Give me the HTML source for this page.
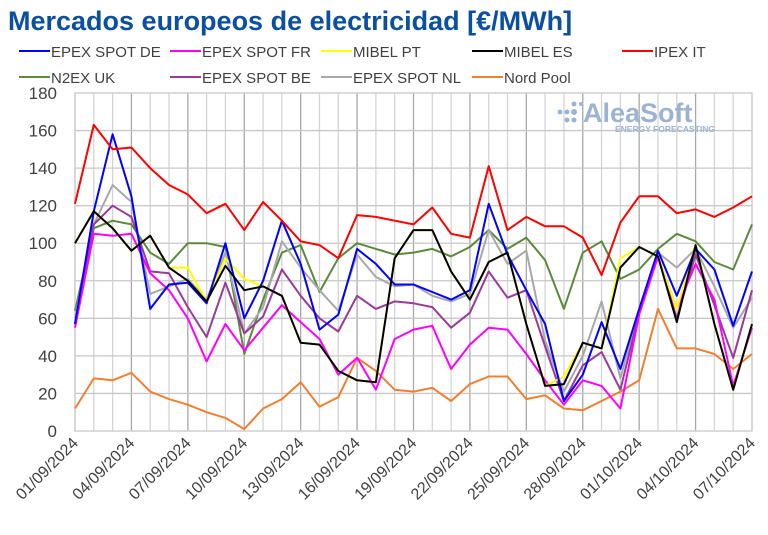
<!DOCTYPE html>
<html><head><meta charset="utf-8"><style>
html,body{margin:0;padding:0;background:#fff;}
svg{display:block;font-family:"Liberation Sans",sans-serif;}
</style></head><body>
<svg id="c" width="768" height="535" xmlns="http://www.w3.org/2000/svg">
<text x="8" y="30" font-size="27" font-weight="bold" fill="#0B4FA0">Mercados europeos de electricidad [€/MWh]</text>
<g id="grid"></g>
<g id="series" fill="none" stroke-width="2" stroke-linejoin="round"></g>
<g id="leg" font-size="15" fill="#404040"></g>
<g font-family="Liberation Sans" fill="#9db3d3">
<circle cx="560" cy="112" r="2.5"/><circle cx="567" cy="112" r="2.5"/><circle cx="574" cy="112" r="3"/><circle cx="574" cy="104" r="2.5"/><circle cx="574" cy="120" r="2.5"/><circle cx="567" cy="120" r="2.5"/><circle cx="581" cy="104" r="2"/>
<text x="583" y="122" font-size="27" font-weight="bold">AleaSoft</text>
<text x="615" y="132" font-size="8.5" font-weight="bold">ENERGY FORECASTING</text>
</g>
</svg>
<script>
const L=75,R=752,T=93,B=431,N=37,dx=(R-L)/36;
const X=i=>L+i*dx, Y=v=>B-v*(B-T)/180;
const ns="http://www.w3.org/2000/svg";
function el(p,t,a,txt){const e=document.createElementNS(ns,t);for(const k in a)e.setAttribute(k,a[k]);if(txt!==undefined)e.textContent=txt;p.appendChild(e);return e;}
const g=document.getElementById('grid');
for(let i=0;i<N;i++){el(g,'line',{x1:X(i),x2:X(i),y1:T,y2:B,stroke:i%3==0?'#a8a8a8':'#d4d4d4','stroke-width':1.3});}
for(let v=0;v<=180;v+=20){el(g,'line',{x1:L,x2:R,y1:Y(v),y2:Y(v),stroke:'#c8c8c8','stroke-width':1.3});
el(g,'text',{x:57,y:Y(v)+6,'text-anchor':'end','font-size':17,fill:'#404040'},String(v));}
el(g,'rect',{x:L,y:T,width:R-L,height:B-T,fill:'none',stroke:'#d0d0d0','stroke-width':1.3});
for(let i=0;i<N;i+=3){const d=new Date(2024,8,1+i);const s=String(d.getDate()).padStart(2,'0')+'/'+String(d.getMonth()+1).padStart(2,'0')+'/2024';
el(g,'text',{x:0,y:0,'text-anchor':'end','font-size':16,fill:'#404040',transform:`translate(${X(i)+4},${B+13}) rotate(-45)`},s);}
const S=[
['N2EX UK','#5a8a3a',[64,108,112,110,95,89,100,100,98,41,70,95,99,74,92,100,97,94,95,97,93,98,107,97,103,91,65,95,101,81,86,97,105,101,90,86,110]],
['EPEX SPOT NL','#a8a8a8',[60,110,131,122,73,77,81,70,95,52,66,101,87,75,64,94,82,77,78,72,69,73,107,89,96,48,21,40,69,28,65,95,87,97,77,55,71]],
['EPEX SPOT BE','#9a3a9a',[57,110,120,114,85,84,66,50,79,52,61,86,72,60,53,72,65,69,68,66,55,63,85,71,75,45,16,35,42,22,63,93,60,94,67,39,75]],
['Nord Pool','#f08030',[12,28,27,31,21,17,14,10,7,1,12,17,26,13,18,39,32,22,21,23,16,25,29,29,17,19,12,11,16,21,27,65,44,44,41,33,41]],
['EPEX SPOT FR','#ff00ff',[55,105,104,105,84,75,60,37,57,43,55,67,58,49,30,39,22,49,54,56,33,46,55,54,41,27,14,27,24,12,62,93,65,89,70,24,55]],
['MIBEL PT','#ffff00',[100,117,108,96,104,87,87,69,92,81,77,72,47,46,32,27,26,92,107,107,85,70,90,95,57,24,29,47,44,92,98,93,65,99,57,22,57]],
['EPEX SPOT DE','#0000ff',[57,117,158,125,65,78,79,68,100,60,80,112,89,54,62,97,89,78,78,74,70,75,121,94,75,57,16,30,58,33,65,96,72,97,86,56,85]],
['MIBEL ES','#000000',[100,117,108,96,104,87,80,69,88,75,77,72,47,46,32,27,26,92,107,107,85,70,90,95,57,24,25,47,44,87,98,93,58,99,57,22,57]],
['IPEX IT','#ff0000',[121,163,150,151,140,131,126,116,121,107,122,112,101,99,92,115,114,112,110,119,105,103,141,107,114,109,109,103,83,111,125,125,116,118,114,119,125]]];
const sg=document.getElementById('series');
S.forEach(s=>el(sg,'polyline',{stroke:s[1],points:s[2].map((v,i)=>X(i).toFixed(1)+','+Y(v).toFixed(1)).join(' ')}));
const lg=document.getElementById('leg');
const items=[['EPEX SPOT DE','#0000ff',19,51],['EPEX SPOT FR','#ff00ff',170,51],['MIBEL PT','#ffff00',321,51],['MIBEL ES','#000000',472,51],['IPEX IT','#ff0000',622,51],
['N2EX UK','#5a8a3a',19,77],['EPEX SPOT BE','#9a3a9a',170,77],['EPEX SPOT NL','#a8a8a8',321,77],['Nord Pool','#f08030',472,77]];
items.forEach(it=>{el(lg,'line',{x1:it[2],x2:it[2]+31,y1:it[3],y2:it[3],stroke:it[1],'stroke-width':2});
el(lg,'text',{x:it[2]+32,y:it[3]+6},it[0]);});
</script>
</body></html>
